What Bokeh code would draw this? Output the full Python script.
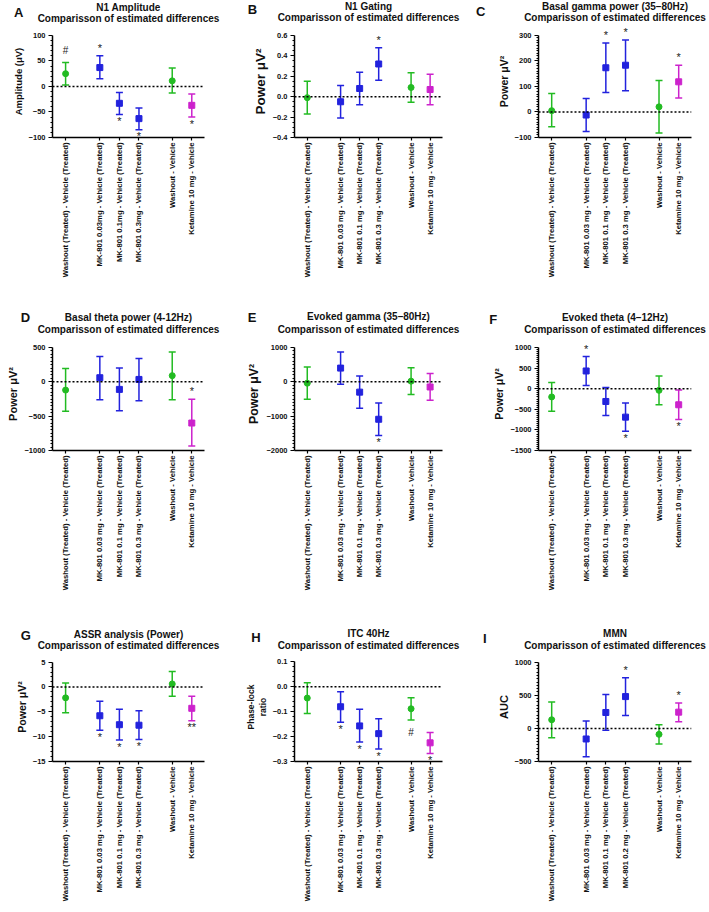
import math
from bokeh.plotting import figure
from bokeh.layouts import gridplot
from bokeh.models import Range1d, FixedTicker, Span, Title, ColumnDataSource
from bokeh.core.properties import value
from bokeh.embed import file_html
from bokeh.resources import INLINE

FONT = "Liberation Sans"

# ---------------- data ----------------
XPOS = [0, 1.75, 2.75, 3.75, 5.45, 6.45]
COLORS = ["#22bb22", "#2222dd", "#2222dd", "#2222dd", "#22bb22", "#cc22cc"]
MARKERS = ["circle", "square", "square", "square", "circle", "square"]

LABELS_A = ["Washout (Treated) - Vehicle (Treated)", "MK-801 0.03mg - Vehicle (Treated)",
            "MK-801 0.1mg - Vehicle (Treated)", "MK-801 0.3mg - Vehicle (Treated)",
            "Washout - Vehicle", "Ketamine 10 mg - Vehicle"]
LABELS_STD = ["Washout (Treated) - Vehicle (Treated)", "MK-801 0.03 mg - Vehicle (Treated)",
              "MK-801 0.1 mg - Vehicle (Treated)", "MK-801 0.3 mg - Vehicle (Treated)",
              "Washout - Vehicle", "Ketamine 10 mg - Vehicle"]
LABELS_I = ["Washout (Treated) - Vehicle (Treated)", "MK-801 0.03 mg - Vehicle (Treated)",
            "MK-801 0.1 mg - Vehicle (Treated)", "MK-801 0.2 mg - Vehicle (Treated)",
            "Washout - Vehicle", "Ketamine 10 mg - Vehicle"]

A_mean = [25, 37, -33, -63, 11, -37]
A_lo = [3, 15, -55, -85, -13, -60]
A_hi = [47, 60, -12, -42, 36, -15]
A_marks = ["#", "*", "*", "*", "", "*"]
A_side = ["above", "above", "below", "below", "", "below"]
A_yticks = [-100, -50, 0, 50, 100]

B_mean = [-0.01, -0.05, 0.08, 0.32, 0.09, 0.07]
B_lo = [-0.17, -0.21, -0.08, 0.16, -0.055, -0.08]
B_hi = [0.15, 0.11, 0.24, 0.48, 0.235, 0.22]
B_marks = ["", "", "", "*", "", ""]
B_side = ["", "", "", "above", "", ""]
B_yticks = [-0.4, -0.2, 0.0, 0.2, 0.4, 0.6]

C_mean = [5, -12, 173, 183, 20, 118]
C_lo = [-58, -77, 76, 83, -82, 55]
C_hi = [72, 53, 270, 282, 123, 183]
C_marks = ["", "", "*", "*", "", "*"]
C_side = ["", "", "above", "above", "", "above"]
C_yticks = [-100, 0, 100, 200, 300]

D_mean = [-120, 60, -110, 35, 90, -600]
D_lo = [-430, -260, -420, -275, -260, -935]
D_hi = [195, 370, 200, 340, 435, -255]
D_marks = ["", "", "", "", "", "*"]
D_side = ["", "", "", "", "", "above"]
D_yticks = [-1000, -500, 0, 500]

E_mean = [-40, 400, -300, -1090, 20, -150]
E_lo = [-510, -70, -770, -1560, -370, -540]
E_hi = [430, 870, 170, -620, 410, 240]
E_marks = ["", "", "", "*", "", ""]
E_side = ["", "", "", "below", "", ""]
E_yticks = [-2000, -1000, 0, 1000]

F_mean = [-200, 430, -310, -690, -40, -390]
F_lo = [-550, 80, -650, -1030, -390, -750]
F_hi = [150, 780, 30, -350, 310, -30]
F_marks = ["", "*", "", "*", "", "*"]
F_side = ["", "above", "", "below", "", "below"]
F_yticks = [-1500, -1000, -500, 0, 500, 1000]

G_mean = [-2.2, -5.8, -7.6, -7.7, 0.6, -4.3]
G_lo = [-5.2, -8.7, -10.7, -10.6, -1.9, -6.8]
G_hi = [0.8, -2.9, -4.5, -4.8, 3.1, -1.9]
G_marks = ["", "*", "*", "*", "", "**"]
G_side = ["", "below", "below", "below", "", "below"]
G_yticks = [-15, -10, -5, 0, 5]

H_mean = [-0.045, -0.08, -0.157, -0.188, -0.088, -0.225]
H_lo = [-0.107, -0.142, -0.222, -0.25, -0.133, -0.268]
H_hi = [0.017, -0.02, -0.09, -0.128, -0.044, -0.183]
H_marks = ["", "*", "*", "*", "#", "*"]
H_side = ["", "below", "below", "below", "below", "below"]
H_yticks = [-0.3, -0.2, -0.1, 0.0, 0.1]

I_mean = [130, -160, 240, 480, -90, 245]
I_lo = [-140, -430, -30, 195, -235, 100]
I_hi = [400, 110, 510, 765, 55, 385]
I_marks = ["", "", "", "*", "", "*"]
I_side = ["", "", "", "above", "", "above"]
I_yticks = [-500, 0, 500, 1000]

SUBTITLE = "Comparisson of estimated differences"


def fmt(v, dec):
    s = f"{v:.{dec}f}"
    return s.replace("-", "\u2212")


def make_panel(letter, title, ylabel, ylab_size, yticks, dec, nminor, labels, mean, lo, hi,
               marks, sides, width, height, left, top, bottom, title_c, sub_c, letter_xy):
    fw = 155
    ext_top = 10
    fh0 = height - top - bottom
    upp = (yticks[-1] - yticks[0]) / fh0
    frame_top = top - ext_top
    p = figure(width=width, height=height, x_range=Range1d(-0.67, 7.1),
               y_range=Range1d(yticks[0], yticks[-1] + ext_top * upp),
               output_backend="svg", toolbar_location=None, min_border_left=left,
               min_border_right=width - left - fw, min_border_top=frame_top,
               min_border_bottom=bottom)
    p.outline_line_color = None
    p.grid.visible = False
    p.background_fill_color = "white"

    # title stack geometry (sub closest to frame, then main, then letter)
    s_sub = 2 * (frame_top - 5.5 - sub_c)
    main_bottom = frame_top - (13 + s_sub)
    s_main = 2 * (main_bottom - 5.5 - title_c)
    main_top = main_bottom - (13 + s_main)
    lx, ly = letter_xy
    s_let = 2 * (main_top - 7.5 - ly)

    p.title = Title(text=letter, text_font=FONT, text_font_size="13px",
                    text_font_style="bold", align="left", offset=lx - 4.5 - left,
                    standoff=s_let, text_color="#111111")
    sub = Title(text=SUBTITLE, text_font=FONT, text_font_size="10px", text_font_style="bold",
                align="center", standoff=s_sub, text_color="#111111")
    main = Title(text=title, text_font=FONT, text_font_size="10px", text_font_style="bold",
                 align="center", standoff=s_main, text_color="#111111")
    p.add_layout(sub, "above")
    p.add_layout(main, "above")

    # zero line
    p.add_layout(Span(location=0, dimension="width", line_color="black",
                      line_width=1.5, line_dash="2 2"))

    src = ColumnDataSource(dict(x=XPOS, mean=mean, lo=lo, hi=hi, color=COLORS,
                                marker=MARKERS))
    p.segment(x0="x", y0="lo", x1="x", y1="hi", line_color="color", line_width=1.5,
              source=src)
    p.scatter(x="x", y="lo", marker="dash", size=7, line_color="color", line_width=1.5,
              source=src)
    p.scatter(x="x", y="hi", marker="dash", size=7, line_color="color", line_width=1.5,
              source=src)
    p.scatter(x="x", y="mean", marker="marker", size=6, fill_color="color",
              line_color="color", source=src)

    # significance marks
    for sym, fsize in [("*", "11px"), ("**", "11px"), ("#", "10px")]:
        xs, ys, offs = [], [], []
        for i, m in enumerate(marks):
            if m != sym:
                continue
            xs.append(XPOS[i])
            if sym == "#":
                if sides[i] == "above":
                    ys.append(hi[i]); offs.append(-11.5)
                else:
                    ys.append(lo[i]); offs.append(12.5)
            else:
                if sides[i] == "above":
                    ys.append(hi[i]); offs.append(-8)
                else:
                    ys.append(lo[i]); offs.append(6.5)
        if xs:
            ms = ColumnDataSource(dict(x=xs, y=ys, off=offs, t=[sym] * len(xs)))
            p.text(x="x", y="y", text="t", y_offset="off", source=ms,
                   text_align="center", text_baseline="alphabetic",
                   text_font=value(FONT), text_font_size=fsize, text_color="#222222")

    # axes
    minor = []
    for a, b in zip(yticks[:-1], yticks[1:]):
        step = (b - a) / nminor
        minor += [a + step * k for k in range(1, nminor)]
    p.yaxis.ticker = FixedTicker(ticks=yticks, minor_ticks=minor)
    p.yaxis.major_label_overrides = {t: fmt(t, dec) for t in yticks}
    p.yaxis.bounds = (yticks[0], yticks[-1])
    p.xaxis.ticker = FixedTicker(ticks=XPOS, minor_ticks=[])
    p.xaxis.major_label_overrides = {x: lab for x, lab in zip(XPOS, labels)}
    p.xaxis.major_label_orientation = math.pi / 2

    for ax in [p.xaxis[0], p.yaxis[0]]:
        ax.axis_line_width = 1.5
        ax.axis_line_color = "black"
        ax.major_tick_line_width = 1.2
        ax.minor_tick_line_width = 1
        ax.major_tick_in = 0
        ax.minor_tick_in = 0
        ax.major_label_text_font = FONT
        ax.major_label_text_font_style = "bold"
        ax.major_label_text_color = "#111111"
    p.yaxis.major_label_text_font_size = "7.5px"
    p.xaxis.major_label_text_font_size = "7.7px"
    p.yaxis.major_tick_out = 4
    p.yaxis.minor_tick_out = 2
    p.yaxis.major_label_standoff = 3
    p.xaxis.major_tick_out = 3
    p.xaxis.major_label_standoff = 2

    p.yaxis.axis_label = ylabel
    p.yaxis.axis_label_text_font = FONT
    p.yaxis.axis_label_text_font_size = ylab_size
    p.yaxis.axis_label_text_font_style = "bold"
    p.yaxis.axis_label_standoff = 2
    p.yaxis.axis_label_text_color = "#111111"
    return p


W1, W2, W3 = 235, 235, 238
H1, H2, H3 = 300, 305, 306
PW = "Power \u03bcV\u00b2"

pa = make_panel("A", "N1 Amplitude", "Amplitude (\u03bcV)", "9.5px", A_yticks, 0, 5, LABELS_A,
                A_mean, A_lo, A_hi, A_marks, A_side, W1, H1, 52, 34, 163, 6, 16.7, (18, 11.7))
pb = make_panel("B", "N1 Gating", PW, "13.5px", B_yticks, 1, 4, LABELS_STD,
                B_mean, B_lo, B_hi, B_marks, B_side, W2, H1, 54, 35, 162, 6, 16.7, (11.7, 10))
pc = make_panel("C", "Basal gamma power (35\u201380Hz)", PW, "10.5px", C_yticks, 0, 10, LABELS_STD,
                C_mean, C_lo, C_hi, C_marks, C_side, W3, H1, 68, 35, 161, 6, 17.3, (10, 10.7))
pd = make_panel("D", "Basal theta power (4-12Hz)", PW, "11px", D_yticks, 0, 10, LABELS_STD,
                D_mean, D_lo, D_hi, D_marks, D_side, W1, H2, 49, 47, 155, 16.7, 29.3, (21.7, 16.7))
pe = make_panel("E", "Evoked gamma (35\u201380Hz)", PW, "12.3px", E_yticks, 0, 10, LABELS_STD,
                E_mean, E_lo, E_hi, E_marks, E_side, W2, H2, 59, 47, 155, 16, 29.3, (16.7, 16))
pf = make_panel("F", "Evoked theta (4\u201312Hz)", PW, "10.5px", F_yticks, 0, 10, LABELS_STD,
                F_mean, F_lo, F_hi, F_marks, F_side, W3, H2, 68, 47, 155, 16.7, 29.3, (23.3, 18.3))
pg = make_panel("G", "ASSR analysis (Power)", PW, "10.5px", G_yticks, 0, 5, LABELS_STD,
                G_mean, G_lo, G_hi, G_marks, G_side, W1, H3, 49, 57, 145, 29.3, 40, (21.7, 29.3))
ph = make_panel("H", "ITC 40Hz", "Phase-lock\nratio", "8.5px", H_yticks, 1, 5, LABELS_STD,
                H_mean, H_lo, H_hi, H_marks, H_side, W2, H3, 52, 54, 147, 25, 37.3, (13.3, 28.3))
pi_ = make_panel("I", "MMN", "AUC", "11px", I_yticks, 0, 10, LABELS_I,
                 I_mean, I_lo, I_hi, I_marks, I_side, W3, H3, 66, 53, 150, 24, 35.7, (15, 30))

grid = gridplot([[pa, pb, pc], [pd, pe, pf], [pg, ph, pi_]], toolbar_location=None)

open("out.html", "w").write(file_html(grid, INLINE))
